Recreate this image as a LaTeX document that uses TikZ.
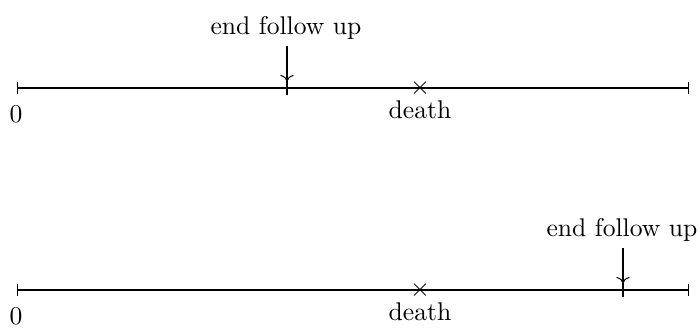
\documentclass[tikz,border=0pt]{standalone}
\usetikzlibrary{arrows.meta}
\begin{document}
\begin{tikzpicture}[x=0.390625pt, y=-0.390625pt,
  axisline/.style={line width=0.4pt, {Bar[width=5pt]}-{Bar[width=5pt]}},
  tickmark/.style={line width=0.4pt},
  pointer/.style={line width=0.4pt, ->},
  lbl/.style={inner sep=0pt}]
\useasboundingbox (0,0) rectangle (700,327);

% ---- first timeline: follow-up ends before death
\coordinate (s1) at (17,88);
\coordinate (r1) at (689,88);
\coordinate (e1) at (287,88);
\draw[axisline] (s1) -- (r1);
\draw[tickmark] ([yshift=2.6pt]e1) -- ([yshift=-2.6pt]e1);
\node (d1) at (420,88) {$\times$};
\node[lbl] (z1) at (16,114) {0};
\node[lbl] (dl1) at (420,110) {death};
\node[lbl] (fu1) at (286,28) {end follow up};
\coordinate (p1) at (287,46);
\draw[pointer] (p1) -- ([yshift=2.6pt]e1);

% ---- second timeline: death before end of follow-up
\coordinate (s2) at (17,290);
\coordinate (r2) at (689,290);
\coordinate (e2) at (623,290);
\draw[axisline] (s2) -- (r2);
\draw[tickmark] ([yshift=2.6pt]e2) -- ([yshift=-2.6pt]e2);
\node (d2) at (420,290) {$\times$};
\node[lbl] (z2) at (16,316) {0};
\node[lbl] (dl2) at (420,312) {death};
\node[lbl] (fu2) at (622,230) {end follow up};
\coordinate (p2) at (623,248);
\draw[pointer] (p2) -- ([yshift=2.6pt]e2);
\end{tikzpicture}
\end{document}
